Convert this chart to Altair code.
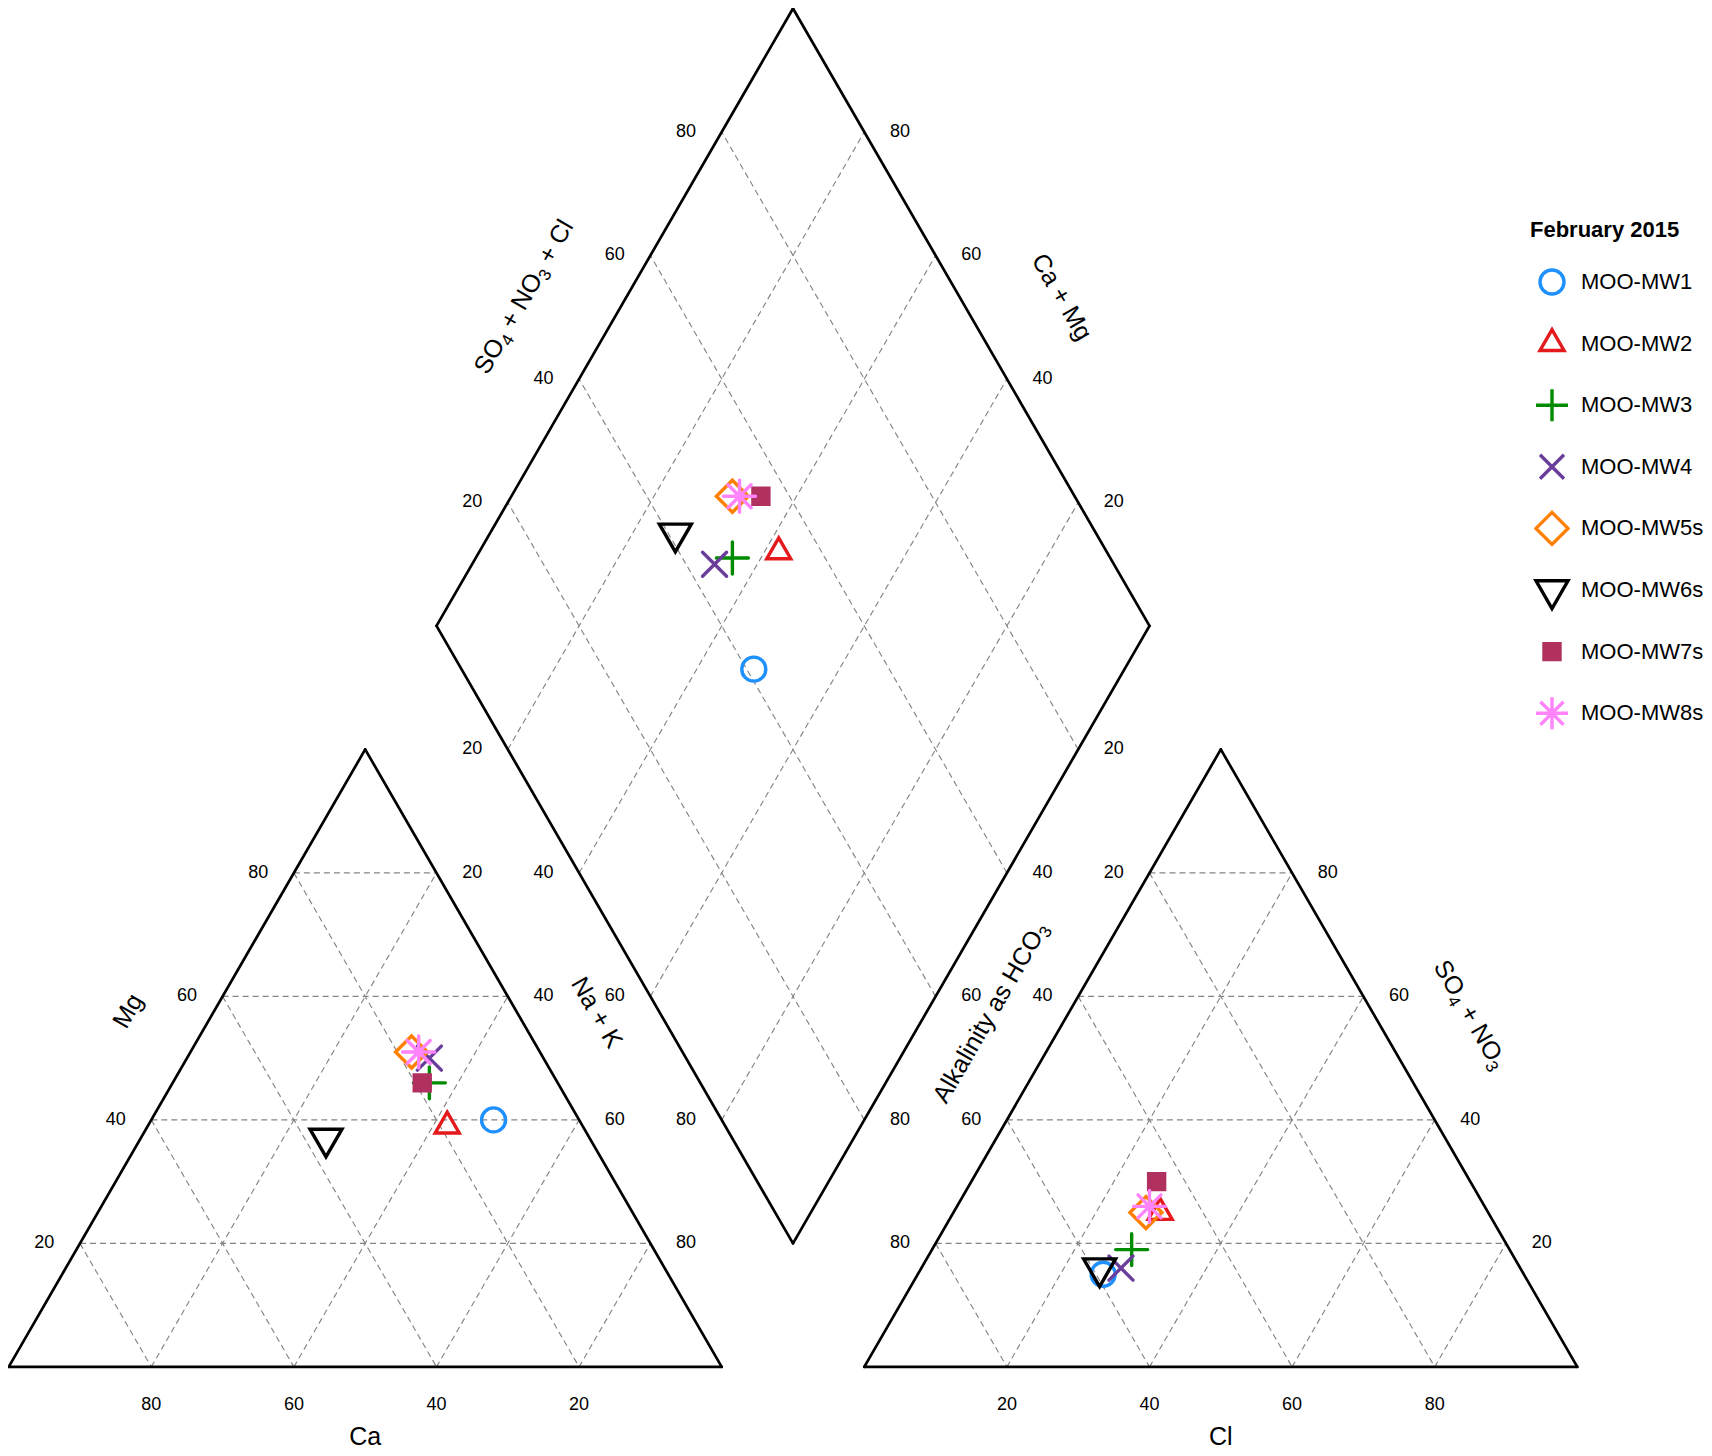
import math
import altair as alt
import pandas as pd

# ---------------- data (percent of meq) ----------------
samples = ["MOO-MW1", "MOO-MW2", "MOO-MW3", "MOO-MW4",
           "MOO-MW5s", "MOO-MW6s", "MOO-MW7s", "MOO-MW8s"]
ca = [12, 19, 18, 16, 18, 37, 19, 17]
mg = [40, 39, 46, 50, 51, 37, 46, 51]
nak = [48, 42, 36, 34, 31, 26, 35, 32]
hco3 = [59, 46, 53, 56, 48, 59, 44, 47]
so4 = [15, 25, 19, 16, 25, 16, 30, 26]
cl = [26, 29, 28, 28, 27, 25, 26, 27]

colors = ["#1E90FF", "#E41A1C", "#008B00", "#6A3D9A",
          "#FF7F00", "#000000", "#B03060", "#FF83FA"]
shapes = [
    "M0.75,0A0.75,0.75,0,1,1,-0.75,0A0.75,0.75,0,1,1,0.75,0Z",
    "M0,-0.87L0.75,0.43L-0.75,0.43Z",
    "M-1,0L1,0M0,-1L0,1",
    "M-0.75,-0.75L0.75,0.75M-0.75,0.75L0.75,-0.75",
    "M0,-1L1,0L0,1L-1,0Z",
    "M-1,-0.577L1,-0.577L0,1.155Z",
    "M-0.5,-0.5L0.5,-0.5L0.5,0.5L-0.5,0.5Z",
    "M-1,0L1,0M0,-1L0,1M-0.72,-0.72L0.72,0.72M-0.72,0.72L0.72,-0.72",
]
fills = ["transparent"] * 6 + ["#B03060", "transparent"]
ticks = [20, 40, 60, 80]

legend_title = "February 2015"
FONT = "Liberation Sans"

# axis titles as (text, is_subscript) parts
title_mg = [("Mg", False)]
title_nak = [("Na + K", False)]
title_ca = [("Ca", False)]
title_cl = [("Cl", False)]
title_anions = [("SO", False), ("4", True), (" + NO", False), ("3", True), (" + Cl", False)]
title_camg = [("Ca + Mg", False)]
title_alk = [("Alkalinity as HCO", False), ("3", True)]
title_so4 = [("SO", False), ("4", True), (" + NO", False), ("3", True)]

# ---------------- Piper geometry ----------------
H = math.sqrt(3) / 2
K = 713.0  # pixels per unit side


def cat_xy(c, m, n):
    return (n + 0.5 * m, H * m)


def an_xy(hc, s, c):
    return (1.2 + c + 0.5 * s, H * s)


def dia_xy(a, b):
    return (1.1 - 0.5 * a + 0.5 * b, H * (0.2 + a + b))


rows = []
for i, s in enumerate(samples):
    t = ca[i] + mg[i] + nak[i]
    c, m, n = ca[i] / t, mg[i] / t, nak[i] / t
    ta = hco3[i] + so4[i] + cl[i]
    hc, sf, clf = hco3[i] / ta, so4[i] / ta, cl[i] / ta
    for (x, y) in (cat_xy(c, m, n), an_xy(hc, sf, clf), dia_xy(c + m, sf + clf)):
        rows.append({"sample": s, "idx": i, "x": x, "y": y})
points = pd.DataFrame(rows)

# outline
B, L, T, R = dia_xy(0, 0), dia_xy(1, 0), dia_xy(1, 1), dia_xy(0, 1)
outline_pts = [
    ((0, 0), (1, 0)), ((1, 0), (0.5, H)), ((0.5, H), (0, 0)),
    ((1.2, 0), (2.2, 0)), ((2.2, 0), (1.7, H)), ((1.7, H), (1.2, 0)),
    (B, L), (L, T), (T, R), (R, B),
]
outline = pd.DataFrame([{"x": a[0], "y": a[1], "x2": b[0], "y2": b[1]}
                        for a, b in outline_pts])

# grid lines
grid = []
for v in ticks:
    k = v / 100
    for a, b in (
        (cat_xy(1 - k, k, 0), cat_xy(0, k, 1 - k)),
        (cat_xy(1 - k, 0, k), cat_xy(0, 1 - k, k)),
        (cat_xy(k, 1 - k, 0), cat_xy(k, 0, 1 - k)),
        (an_xy(1 - k, k, 0), an_xy(0, k, 1 - k)),
        (an_xy(1 - k, 0, k), an_xy(0, 1 - k, k)),
        (an_xy(k, 1 - k, 0), an_xy(k, 0, 1 - k)),
        (dia_xy(k, 0), dia_xy(k, 1)),
        (dia_xy(0, k), dia_xy(1, k)),
    ):
        grid.append({"x": a[0], "y": a[1], "x2": b[0], "y2": b[1]})
grid = pd.DataFrame(grid)

# tick labels
D = 0.05
BOT = -0.0536
tl = []
for v in ticks:
    k = v / 100
    tl.append((k, BOT, str(100 - v)))                       # Ca
    p = cat_xy(1 - k, k, 0); tl.append((p[0] - D, p[1], str(v)))     # Mg
    p = cat_xy(0, 1 - k, k); tl.append((p[0] + D, p[1], str(v)))     # Na+K
    tl.append((1.2 + k, BOT, str(v)))                        # Cl
    p = an_xy(k, 1 - k, 0); tl.append((p[0] - D, p[1], str(v)))      # HCO3
    p = an_xy(0, k, 1 - k); tl.append((p[0] + D, p[1], str(v)))      # SO4
    p = dia_xy(1, k); tl.append((p[0] - D, p[1], str(v)))            # SO4+NO3+Cl
    p = dia_xy(k, 1); tl.append((p[0] + D, p[1], str(v)))            # Ca+Mg
    p = dia_xy(k, 0); tl.append((p[0] - D, p[1], str(100 - v)))      # Na+K (diamond)
    p = dia_xy(0, k); tl.append((p[0] + D, p[1], str(100 - v)))      # HCO3 (diamond)
ticklab = pd.DataFrame(tl, columns=["x", "y", "label"])

# ---------------- axis titles (with real subscripts) ----------------
NL = (-H, 0.5)
NR = (H, 0.5)
WID = {" ": 0.278, "+": 0.584, "S": 0.667, "O": 0.778, "N": 0.722, "C": 0.722,
       "l": 0.222, "A": 0.667, "k": 0.5, "a": 0.556, "i": 0.222, "n": 0.556,
       "t": 0.278, "y": 0.5, "s": 0.5, "H": 0.722, "M": 0.833, "g": 0.556,
       "K": 0.667}
FS, FS_SUB, DROP = 25, 17, 5


def text_w(s, fs):
    return sum(WID.get(ch, 0.556) for ch in s) * fs


def side_pt(p0, p1, t, off, nrm):
    return (p0[0] + t * (p1[0] - p0[0]) + off * nrm[0],
            p0[1] + t * (p1[1] - p0[1]) + off * nrm[1])


def seg_label(center, ang, parts):
    cx, cy = center
    th = math.radians(ang)
    d = (math.cos(th), math.sin(th))
    dn = (-math.sin(th), math.cos(th))
    total = sum(text_w(t, FS_SUB if sub else FS) for t, sub in parts)
    sx = -total / 2 * d[0] + 0.30 * FS * dn[0]
    sy = -total / 2 * d[1] + 0.30 * FS * dn[1]
    out, adv = [], 0.0
    for t, sub in parts:
        f = FS_SUB if sub else FS
        lead = len(t) - len(t.lstrip(" "))
        a = adv + lead * WID[" "] * f
        ox = sx + a * d[0] + (DROP * dn[0] if sub else 0)
        oy = sy + a * d[1] + (DROP * dn[1] if sub else 0)
        out.append({"x": cx + ox / K, "y": cy - oy / K, "label": t.strip(" "),
                    "angle": ang, "fs": f})
        adv += text_w(t, f)
    return out


tt = []
tt += seg_label(side_pt((0, 0), (0.5, H), 0.516, 0.104, NL), 300, title_mg)
tt += seg_label(side_pt((1, 0), (0.5, H), 0.518, 0.096, NR), 60, title_nak)
tt += seg_label(side_pt(L, T, 0.461, 0.124, NL), 300, title_anions)
tt += seg_label(side_pt(R, T, 0.461, 0.1234, NR), 60, title_camg)
tt += seg_label(side_pt((1.2, 0), (1.7, H), 0.519, 0.0947, NL), 300, title_alk)
tt += seg_label(side_pt((2.2, 0), (1.7, H), 0.503, 0.1163, NR), 60, title_so4)
BOT_T = -0.0994
tt += seg_label((0.5, BOT_T), 0, title_ca)
tt += seg_label((1.7, BOT_T), 0, title_cl)
titles = pd.DataFrame(tt)

# ---------------- chart ----------------
W, HT = 1696, 1444
X0 = -0.7 / K
Y1 = 1358.9 / K
xs = alt.Scale(domain=[X0, X0 + W / K], nice=False, zero=False)
ys = alt.Scale(domain=[Y1 - HT / K, Y1], nice=False, zero=False)

X = alt.X("x:Q", scale=xs, axis=None)
Y = alt.Y("y:Q", scale=ys, axis=None)

grid_layer = alt.Chart(grid).mark_rule(
    color="#858585", strokeWidth=1.15, strokeDash=[6, 4]
).encode(x=X, y=Y, x2="x2:Q", y2="y2:Q")

outline_layer = alt.Chart(outline).mark_rule(
    color="black", strokeWidth=2.7, strokeCap="round"
).encode(x=X, y=Y, x2="x2:Q", y2="y2:Q")

tick_layer = alt.Chart(ticklab).mark_text(
    font=FONT, fontSize=18, color="black", align="center", baseline="middle"
).encode(x=X, y=Y, text="label:N")

title_layer = alt.Chart(titles).mark_text(
    font=FONT, color="black", align="left", baseline="alphabetic"
).encode(
    x=X, y=Y, text="label:N",
    angle=alt.Angle("angle:Q", scale=None),
    size=alt.Size("fs:Q", scale=None),
)

leg = alt.Legend(
    title=legend_title, orient="none", legendX=1522, legendY=212,
    titleFont=FONT, titleFontSize=22, titleFontWeight="bold", titleColor="black",
    labelFont=FONT, labelFontSize=22, labelColor="black",
    symbolSize=1024, symbolStrokeWidth=3.4, rowPadding=12.6, labelOffset=11,
    titlePadding=22, padding=0, offset=0, gridAlign="all", symbolOffset=4,
)

point_layer = alt.Chart(points).mark_point(
    filled=False, size=1024, strokeWidth=3.4, opacity=1, strokeCap="round"
).encode(
    x=X, y=Y,
    stroke=alt.Stroke("sample:N", scale=alt.Scale(domain=samples, range=colors), legend=leg),
    fill=alt.Fill("sample:N", scale=alt.Scale(domain=samples, range=fills), legend=leg),
    shape=alt.Shape("sample:N", scale=alt.Scale(domain=samples, range=shapes), legend=leg),
    order=alt.Order("idx:Q"),
)

chart = alt.layer(
    grid_layer, outline_layer, tick_layer, title_layer, point_layer
).properties(
    width=W, height=HT, padding=0, autosize=alt.AutoSizeParams(type="none")
).configure_view(stroke=None)

chart.save("out.html", embed_options={"renderer": "svg", "actions": False})
